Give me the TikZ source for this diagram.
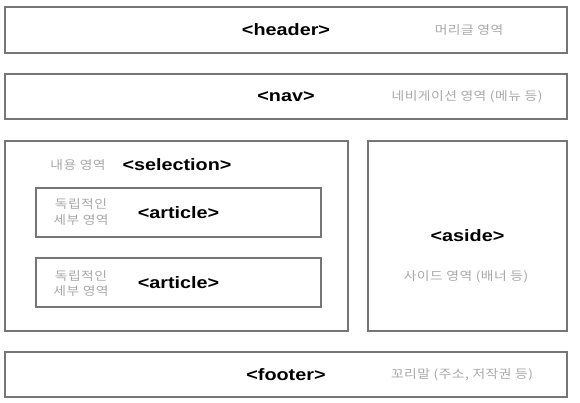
\documentclass[tikz,border=0pt]{standalone}
\usepackage{fontspec}
\setmainfont{Liberation Sans}[FakeStretch=1.2]
\newfontfamily\kofont{Noto Sans CJK KR}[FakeStretch=1.15, LetterSpace=4]
\usetikzlibrary{positioning}
\definecolor{boxgray}{HTML}{767676}
\definecolor{notegray}{HTML}{A8A8A8}
\tikzstyle{box} = [draw=boxgray, line width=1.8pt]
\tikzstyle{tag} = [font=\fontsize{16.5}{18}\selectfont\bfseries, text=black]
\tikzstyle{note} = [font=\kofont\fontsize{12}{15}\selectfont, text=notegray, align=center]

\begin{document}
\begin{tikzpicture}[x=1pt,y=-1pt]
        \useasboundingbox (0,0) rectangle (580,402);
        \draw [box] (5,7) rectangle (567,53) node[pos=0.5, tag] (Header) {<header>}; %header
        \draw [box] (5,74) rectangle (567,119) node[pos=0.5, tag] (Nav) {<nav>}; %nav
        \draw [box] (5,141) rectangle (348,331); %selection
        \draw [box] (36,188) rectangle (321,237) node[pos=0.5, tag] (ArticleA) {<article>}; %article 1
        \draw [box] (36,258) rectangle (321,307) node[pos=0.5, tag] (ArticleB) {<article>}; %article 2
        \draw [box] (368,141) rectangle (567,331) node[pos=0.5, tag] (Aside) {<aside>}; %aside
        \draw [box] (5,352) rectangle (567,397) node[pos=0.5, tag] (Footer) {<footer>}; %footer
        \node [tag] (Selection) at (177,165) {<selection>};
        \node [note] (HeaderNote) at (469,30) {머리글 영역};
        \node [note] (NavNote) at (467,97) {네비게이션 영역 (메뉴 등)};
        \node [note] (SelectionNote) at (78,165) {내용 영역};
        \node [note] (ArticleANote) at (81,212) {독립적인\\세부 영역};
        \node [note] (ArticleBNote) at (81,283) {독립적인\\세부 영역};
        \node [note] (AsideNote) at (466,277) {사이드 영역 (배너 등)};
        \node [note] (FooterNote) at (462,375) {꼬리말 (주소, 저작권 등)};
    \end{tikzpicture}
\end{document}
